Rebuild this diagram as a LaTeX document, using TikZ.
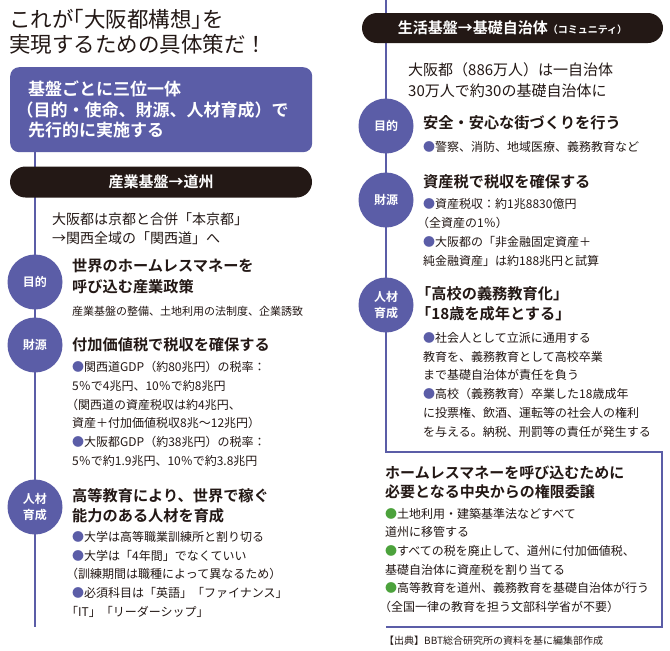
\documentclass[tikz,border=0pt]{standalone}
\usepackage{fontspec}
\setmainfont{Noto Sans CJK JP}[BoldFont={Noto Sans CJK JP Bold}]
\usetikzlibrary{backgrounds}
\definecolor{basecol}{HTML}{5B5DA7}
\definecolor{barcol}{HTML}{231815}
\definecolor{delegcol}{HTML}{4CA23C}
\definecolor{inkcol}{HTML}{231815}
\newcommand{\fs}[2]{\fontsize{#1}{#2}\selectfont}
\newcommand{\bdot}{{\color{basecol}●}}
\newcommand{\gdot}{{\color{delegcol}●}}
\newcommand{\hk}{\hspace*{-0.5em}}

\begin{document}
\begin{tikzpicture}[x=1pt,y=-1pt,
	every node/.style={inner sep=0pt, text=inkcol},
	title/.style={anchor=north west, align=left, font=\fs{21.5}{25.5}},
	goalbox/.style={anchor=north west, fill=basecol, rounded corners=9, text=white, align=left,
		font=\bfseries\fs{17}{20.5}, text width=272, inner xsep=15, minimum height=85},
	bar/.style={fill=barcol, text=white, font=\bfseries\fs{15}{18}, minimum width=302,
		minimum height=31, rounded corners=15.5},
	badge/.style={circle, fill=basecol, text=white, align=center, font=\bfseries\fs{12}{16},
		minimum size=55},
	intro/.style={anchor=north west, align=left, font=\fs{14}{19.5}},
	head/.style={anchor=north west, align=left, font=\bfseries\fs{15.2}{20.5}},
	sub/.style={anchor=north west, align=left, font=\fs{11}{14}},
	body/.style={anchor=north west, align=left, font=\fs{12}{18.8}},
	src/.style={anchor=north west, font=\fs{10}{12}},
	spine/.style={draw=basecol, line width=2.4}]
	\useasboundingbox (0,0) rectangle (670,651);

	% draw the title
	\node[title] (ttl) at (9,9) {これが\hk「大阪都構想」\hk を\\実現するための具体策だ！};

	% draw the blue box on top of the left column
	\node[goalbox] (goal) at (10,67) {\hspace*{3pt}基盤ごとに三位一体\\\hk（目的・使命、財源、人材育成）で\\\hspace*{3pt}先行的に実施する};

	% draw the left column: industry -> doshu
	\node[bar] (indbar) at (161,182) {産業基盤→道州};
	\node[intro] (indintro) at (52,212) {大阪都は京都と合併「本京都」\\→関西全域の「関西道」へ};

	\node[badge] (indgoal) at (35,282) {目的};
	\node[head] (indgoalh) at (72,259) {世界のホームレスマネーを\\呼び込む産業政策};
	\node[sub] (indgoals) at (72,306.5) {産業基盤の整備、土地利用の法制度、企業誘致};

	\node[badge] (indfund) at (35,345) {財源};
	\node[head] (indfundh) at (72,337) {付加価値税で税収を確保する};
	\node[body] (indfundb) at (72,361) {\bdot 関西道GDP（約80兆円）の税率：\\5％で4兆円、10％で約8兆円\\\hk（関西道の資産税収は約4兆円、\\資産＋付加価値税収8兆～12兆円）\\\bdot 大阪都GDP（約38兆円）の税率：\\5％で約1.9兆円、10％で約3.8兆円};

	\node[badge] (indhr) at (35,507) {人材\\育成};
	\node[head] (indhrh) at (72,488) {高等教育により、世界で稼ぐ\\能力のある人材を育成};
	\node[body] (indhrb) at (72,531) {\bdot 大学は高等職業訓練所と割り切る\\\bdot 大学は「4年間」でなくていい\\\hk（訓練期間は職種によって異なるため）\\\bdot 必須科目は「英語」「ファイナンス」\\\hk「IT」「リーダーシップ」};
	\coordinate (indend) at (35,627);

	% draw the right column: life -> community
	\coordinate (comtop) at (386,0);
	\node[bar, minimum width=301, minimum height=30, rounded corners=15] (combar) at (512.5,28) {生活基盤→基礎自治体{\fs{10}{12}（コミュニティ）}};
	\node[intro, font=\fs{15}{21}] (comintro) at (408,62.5) {大阪都（886万人）は一自治体\\30万人で約30の基礎自治体に};

	\node[badge] (comgoal) at (386,126) {目的};
	\node[head] (comgoalh) at (423,115) {安全・安心な街づくりを行う};
	\node[body] (comgoalb) at (423,141) {\bdot 警察、消防、地域医療、義務教育など};

	\node[badge] (comfund) at (386,200) {財源};
	\node[head] (comfundh) at (423,174) {資産税で税収を確保する};
	\node[body, font=\fs{12}{19}] (comfundb) at (423,198) {\bdot 資産税収：約1兆8830億円\\\hk（全資産の1％）\\\bdot 大阪都の「非金融固定資産＋\\純金融資産」は約188兆円と試算};

	\node[badge] (comhr) at (386,305) {人材\\育成};
	\node[head] (comhrh) at (416,286) {「高校の義務教育化」\\「18歳を成年とする」};
	\node[body] (comhrb) at (423,332) {\bdot 社会人として立派に通用する\\教育を、義務教育として高校卒業\\まで基礎自治体が責任を負う\\\bdot 高校（義務教育）卒業した18歳成年\\に投票権、飲酒、運転等の社会人の権利\\を与える。納税、刑罰等の責任が発生する};

	% draw the bracket box with the transfer of powers
	\coordinate (comturn) at (386,452);
	\coordinate (delegne) at (662,452);
	\coordinate (delegse) at (662,627);
	\coordinate (delegsw) at (386,627);
	\node[head, font=\bfseries\fs{15}{19}] (delegh) at (385,466) {ホームレスマネーを呼び込むために\\必要となる中央からの権限委譲};
	\node[body, font=\fs{12}{18.6}] (delegb) at (385,508) {\gdot 土地利用・建築基準法などすべて\\道州に移管する\\\gdot すべての税を廃止して、道州に付加価値税、\\基礎自治体に資産税を割り当てる\\\gdot 高等教育を道州、義務教育を基礎自治体が行う\\\hk（全国一律の教育を担う文部科学省が不要）};
	\node[src] (src) at (384,636) {【出典】BBT総合研究所の資料を基に編集部作成};

	% draw the two blue lines behind the badges
	\begin{scope}[on background layer]
		\fill[white] (0,0) rectangle (670,651);
		\draw[spine] (goal.south -| indgoal.center) -- (indend);
		\draw[spine, line width=2.2] (comtop) -- (comturn) -- (delegne) -- (delegse) -- (delegsw);
	\end{scope}
\end{tikzpicture}
\end{document}
